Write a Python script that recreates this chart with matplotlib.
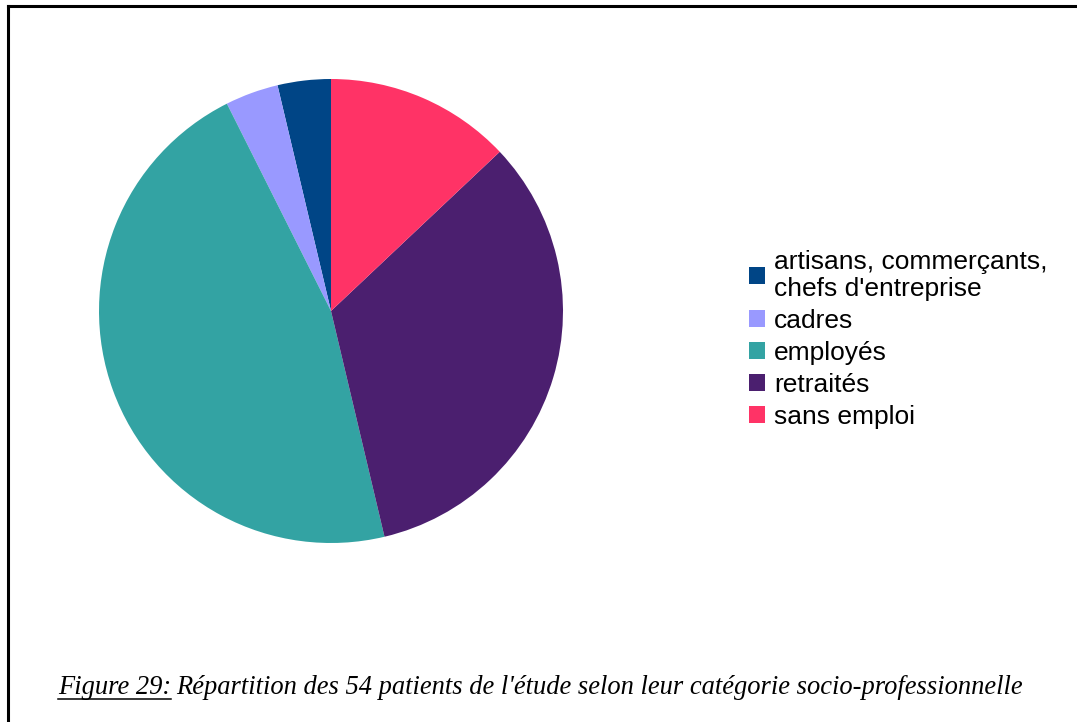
import matplotlib as mpl
mpl.use('agg')
import matplotlib.pyplot as plt
from matplotlib.lines import Line2D

labels = ["artisans, commerçants,\nchefs d'entreprise", "cadres", "employés",
          "retraités", "sans emploi"]
counts = [2, 2, 25, 18, 7]
colors = ['#004586', '#9999ff', '#33a3a3', '#4b1f6f', '#ff3366']

W, H = 1077, 722
fig = plt.figure(figsize=(W / 100, H / 100), dpi=100)

# pie centred at (331, 311) px, radius 232 px
cx, cy, r = 331, 311, 232
ax = fig.add_axes([(cx - r) / W, (H - cy - r) / H, 2 * r / W, 2 * r / H])
wedges, _ = ax.pie(counts, colors=colors, startangle=90, counterclock=True,
                   radius=1, wedgeprops=dict(linewidth=0))
ax.set_xlim(-1, 1)
ax.set_ylim(-1, 1)
ax.set_aspect('equal')
ax.axis('off')

leg = fig.legend(wedges, labels, frameon=False, loc='upper left',
                 bbox_to_anchor=(749 / W, 1 - 250 / H),
                 prop=dict(family='Liberation Sans', size=19),
                 handlelength=0.62, handleheight=0.62, handletextpad=0.32,
                 labelspacing=0.3, borderaxespad=0, borderpad=0)
for t in leg.get_texts():
    t.set_linespacing(1.15)

# frame lines (top and left only)
fig.add_artist(Line2D([8 / W, 1], [1 - 6 / H, 1 - 6 / H], color='black', lw=2.2))
fig.add_artist(Line2D([8 / W, 8 / W], [0, 1 - 6 / H], color='black', lw=2.2))

# caption with underlined "Figure 29:"
cap_font = dict(family='Liberation Serif', style='italic', size=19.1)
x0, yb = 58 / W, 1 - 694 / H
t1 = fig.text(x0, yb, "Figure 29:", ha='left', va='baseline', **cap_font)
fig.canvas.draw()
bb = t1.get_window_extent()
x1 = bb.x1 / W
fig.add_artist(Line2D([x0, x1], [yb - 5 / H, yb - 5 / H], color='black', lw=1.1))
fig.text(x1 + 5 / W, yb, "Répartition des 54 patients de l'étude selon leur catégorie socio-professionnelle",
         ha='left', va='baseline', **cap_font)

fig.savefig('out.png', dpi=100)
